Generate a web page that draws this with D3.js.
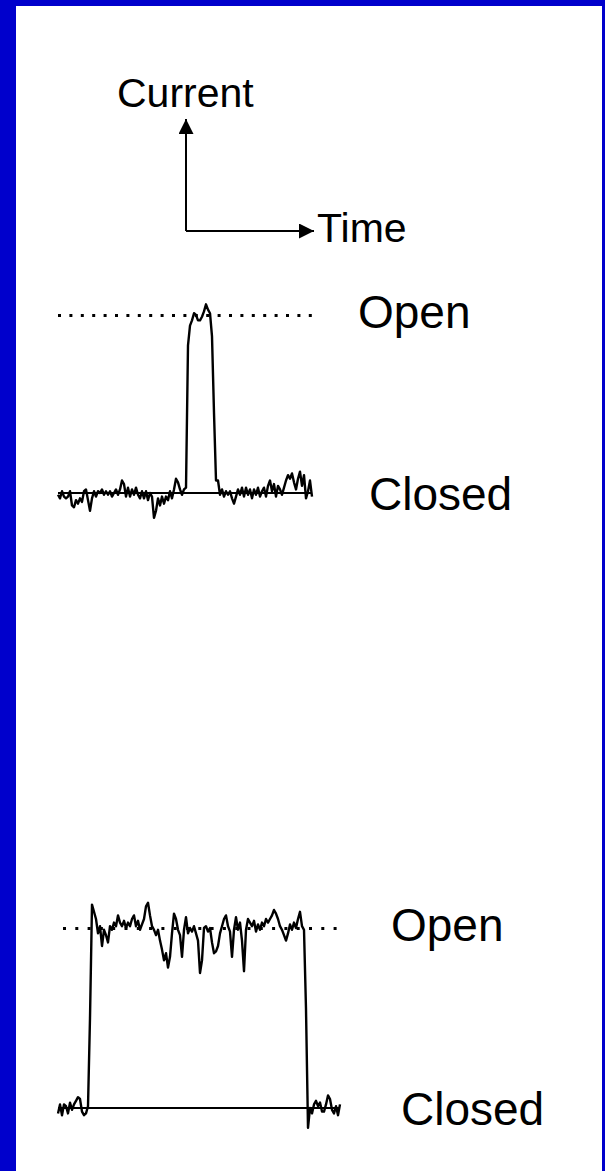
<!DOCTYPE html>
<html>
<head>
<meta charset="utf-8">
<script src="https://cdn.jsdelivr.net/npm/d3@7"></script>
<style>
  body { margin: 0; padding: 0; background: #0000cc; }
  #vis { width: 605px; height: 1171px; }
  text { font-family: "Liberation Sans", Arial, sans-serif; fill: #000; }
</style>
</head>
<body>
<div id="vis"></div>
<script>
// single channel recordings, current in pA, one sample per step
var openLevel = 10;
var closedLevel = 0;

var brief_current = [
  -0.1, -0.3, 0.1, -0.2, -0.3, -0.2, 0.1, -0.7, -0.8, -0.4,
  -0.6, -0.3, -0.5, 0.1, 0.2, -0.4, -1.0, -0.3, 0.1, -0.2,
  0.1, 0, 0.2, -0.1, 0.1, -0.1, 0.1, -0.2, 0, 0.2,
  -0.1, 0.2, 0.7, 0.5, -0.2, 0.3, -0.2, 0.2, -0.1, 0.3,
  -0.1, -0.3, 0.1, -0.3, 0.1, -0.4, 0, -0.2, -1.4, -1.0,
  -0.3, -0.7, -0.2, -0.6, -0.2, -0.4, 0.1, -0.3, 0.2, 0.8,
  0.6, 0.2, -0.1, 0.2, 0.3, 8.3, 9.4, 9.7, 10.1, 10.0,
  9.7, 9.7, 9.9, 10.2, 10.6, 10.3, 10.1, 8.8, 4.5, 0.7,
  0.7, -0.1, 0.2, -0.2, 0.1, -0.1, 0.1, -0.3, -0.6, -0.2,
  0.2, -0.1, 0.3, -0.2, 0.3, -0.1, 0.2, -0.3, 0.2, -0.1,
  0.3, -0.2, 0.1, 0.3, -0.2, 0.4, 0.7, 0.1, 0.5, -0.2,
  0.4, 0.2, -0.1, 0.3, 0.7, 1.0, 0.8, 1.1, 0.6, 0.2,
  0.8, 1.2, 0.4, 1.0, -0.3, 0.1, 0.7, -0.2
];

var long_current = [
  -0.3, 0.2, -0.4, 0.2, 0.1, -0.3, 0.3, -0.1, 0.2, 0.4,
  0.6, 0.5, -0.2, -0.4, -0.3, 0.1, 5.0, 11.3, 10.9, 10.5,
  9.7, 10.1, 9.0, 9.9, 9.6, 9.2, 10.1, 9.9, 10.3, 10.1,
  10.7, 10.3, 10.1, 10.4, 10.0, 10.3, 10.1, 10.5, 10.7, 10.1,
  10.4, 9.9, 10.2, 10.5, 11.2, 11.4, 10.7, 10.1, 9.9, 9.6,
  9.9, 9.3, 8.8, 8.2, 8.6, 7.8, 8.4, 9.7, 10.8, 10.5,
  9.9, 9.6, 8.4, 9.9, 10.6, 9.7, 10.0, 9.8, 10.1, 9.7,
  9.3, 7.5, 8.2, 10.0, 10.1, 9.8, 10.0, 9.2, 8.6, 8.7,
  9.0, 9.7, 10.1, 10.5, 10.7, 10.1, 9.8, 8.4, 9.9, 10.6,
  9.9, 10.3, 9.3, 7.6, 9.9, 10.5, 10.3, 10.1, 10.4, 9.8,
  10.2, 9.9, 10.3, 10.1, 10.5, 10.3, 10.5, 10.7, 11.0, 10.8,
  10.5, 10.1, 9.9, 9.6, 9.3, 9.7, 10.2, 9.9, 10.3, 10.0,
  10.5, 10.9, 10.1, 9.9, 5.5, -1.1, 0, -0.3, 0.2, 0.4,
  0.1, 0.3, -0.2, -0.2, 0.2, 0.7, 0.5, -0.1, -0.3, 0.1,
  -0.4, 0.2
];

var level_labels = ["Open", "Closed"];
var axis_labels = ["Current", "Time"];

var width = 605;
var height = 1171;

var svg = d3.select("#vis")
    .append("svg")
    .attr("width", width)
    .attr("height", height);

svg.append("rect")
    .attr("width", width)
    .attr("height", height)
    .attr("fill", "#0000cc");

svg.append("rect")
    .attr("x", 16)
    .attr("y", 6)
    .attr("width", width - 19)
    .attr("height", height - 6)
    .attr("fill", "#fff");

var defs = svg.append("defs");
defs.append("marker")
    .attr("id", "arrow")
    .attr("viewBox", "0 0 10 10")
    .attr("refX", 10)
    .attr("refY", 5)
    .attr("markerUnits", "userSpaceOnUse")
    .attr("markerWidth", 16)
    .attr("markerHeight", 15)
    .attr("orient", "auto")
    .append("path")
    .attr("d", "M0,0 L10,5 L0,10 Z")
    .attr("fill", "#000");

// axes icon
svg.append("path")
    .attr("d", "M186,231 L186,119")
    .attr("stroke", "#000")
    .attr("stroke-width", 2)
    .attr("fill", "none")
    .attr("marker-end", "url(#arrow)");

svg.append("path")
    .attr("d", "M186,231 L314,231")
    .attr("stroke", "#000")
    .attr("stroke-width", 2)
    .attr("fill", "none")
    .attr("marker-end", "url(#arrow)");

svg.append("text")
    .attr("x", 117)
    .attr("y", 107)
    .style("font-size", "41px")
    .text(axis_labels[0]);

svg.append("text")
    .attr("x", 317)
    .attr("y", 242)
    .style("font-size", "41px")
    .text(axis_labels[1]);

function drawTrace(data, opt) {
    var xscale = d3.scaleLinear()
        .domain([0, data.length - 1])
        .range([opt.x0, opt.x1]);

    var yscale = d3.scaleLinear()
        .domain([closedLevel, openLevel])
        .range([opt.yClosed, opt.yOpen]);

    var g = svg.append("g");

    // open level, dotted
    g.append("line")
        .attr("x1", opt.dotX0)
        .attr("x2", opt.dotX1)
        .attr("y1", yscale(openLevel) + 0.5)
        .attr("y2", yscale(openLevel) + 0.5)
        .attr("stroke", "#000")
        .attr("stroke-width", 3)
        .attr("stroke-dasharray", "3," + opt.dotGap);

    // closed level, solid
    g.append("line")
        .attr("x1", opt.x0)
        .attr("x2", opt.x1)
        .attr("y1", yscale(closedLevel))
        .attr("y2", yscale(closedLevel))
        .attr("stroke", "#000")
        .attr("stroke-width", 2);

    var line = d3.line()
        .x(function(d, i) { return xscale(i); })
        .y(function(d) { return yscale(d); });

    g.append("path")
        .datum(data)
        .attr("d", line)
        .attr("fill", "none")
        .attr("stroke", "#000")
        .attr("stroke-width", 2.4)
        .attr("stroke-linejoin", "round");

    g.append("text")
        .attr("x", opt.labelX[0])
        .attr("y", yscale(openLevel) + 13)
        .style("font-size", "46px")
        .text(level_labels[0]);

    g.append("text")
        .attr("x", opt.labelX[1])
        .attr("y", yscale(closedLevel) + 17)
        .style("font-size", "46px")
        .text(level_labels[1]);
}

drawTrace(brief_current, {
    x0: 58, x1: 312,
    yClosed: 493, yOpen: 315,
    dotX0: 58, dotX1: 312, dotGap: 8.4,
    labelX: [358, 369]
});

drawTrace(long_current, {
    x0: 58, x1: 340,
    yClosed: 1108, yOpen: 928,
    dotX0: 63, dotX1: 340, dotGap: 9.3,
    labelX: [391, 401]
});
</script>
</body>
</html>
